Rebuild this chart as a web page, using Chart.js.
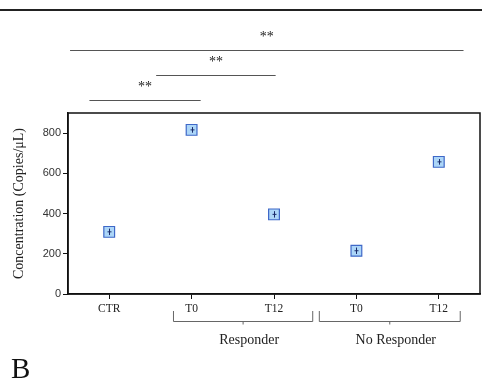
<!DOCTYPE html>
<html>
<head>
<meta charset="utf-8">
<script src="https://cdn.jsdelivr.net/npm/chart.js@4"></script>
<style>
  html, body { margin: 0; padding: 0; background: #fff; }
  #wrap { width: 482px; height: 388px; position: relative; }
</style>
</head>
<body>
<div id="wrap"><canvas id="chart"></canvas></div>
<script>
const categories = ['CTR', 'T0', 'T12', 'T0', 'T12'];
const concentration = [309, 816, 396, 215, 657];
const errors = [16, 14, 16, 16, 14];
const yTicks = [0, 200, 400, 600, 800];

// significance lines: [from index, to index, value level]
const sigLines = [
    [-0.24, 1.11, 965],
    [0.57, 2.02, 1088],
    [-0.475, 4.3, 1211]
];
const groups = [
    { label: 'Responder', from: 0.78, to: 2.47 },
    { label: 'No Responder', from: 2.55, to: 4.26 }
];

const serif = '"Liberation Serif", "Times New Roman", serif';
const sans = '"Liberation Sans", Arial, sans-serif';

const decorations = {
    id: 'decorations',
    afterDatasetsDraw(chart) {
        const ctx = chart.ctx;
        const area = chart.chartArea;
        const xs = chart.scales.x;
        const ys = chart.scales.y;
        ctx.save();

        // frame
        ctx.strokeStyle = '#111';
        ctx.lineWidth = 1.5;
        ctx.strokeRect(area.left, area.top, area.right - area.left, area.bottom - area.top);

        // error bars
        ctx.strokeStyle = '#1a2a6a';
        ctx.lineWidth = 1;
        concentration.forEach((v, i) => {
            const x = Math.round(xs.getPixelForValue(i)) + 0.5;
            const y1 = ys.getPixelForValue(v - errors[i]);
            const y2 = ys.getPixelForValue(v + errors[i]);
            ctx.beginPath();
            ctx.moveTo(x, y1); ctx.lineTo(x, y2);
            ctx.moveTo(x - 2, ys.getPixelForValue(v)); ctx.lineTo(x + 2, ys.getPixelForValue(v));
            ctx.stroke();
        });

        // top rule
        ctx.strokeStyle = '#222';
        ctx.lineWidth = 2;
        ctx.beginPath();
        ctx.moveTo(0, 10); ctx.lineTo(chart.width, 10);
        ctx.stroke();

        // significance
        ctx.strokeStyle = '#555';
        ctx.lineWidth = 1;
        ctx.fillStyle = '#222';
        ctx.font = '14px ' + serif;
        ctx.textAlign = 'center';
        ctx.textBaseline = 'alphabetic';
        sigLines.forEach(([a, b, lvl]) => {
            const x1 = xs.getPixelForValue(a);
            const x2 = xs.getPixelForValue(b);
            const y = Math.round(ys.getPixelForValue(lvl)) + 0.5;
            ctx.beginPath();
            ctx.moveTo(x1, y); ctx.lineTo(x2, y);
            ctx.stroke();
            ctx.fillText('**', (x1 + x2) / 2, y - 10);
        });

        // group brackets
        const top = area.bottom + 17;
        const bot = area.bottom + 27.5;
        ctx.strokeStyle = '#666';
        ctx.lineWidth = 1;
        ctx.font = '14px ' + serif;
        groups.forEach(g => {
            const x1 = xs.getPixelForValue(g.from);
            const x2 = xs.getPixelForValue(g.to);
            const mid = (x1 + x2) / 2;
            ctx.beginPath();
            ctx.moveTo(x1, top); ctx.lineTo(x1, bot); ctx.lineTo(x2, bot); ctx.lineTo(x2, top);
            ctx.moveTo(mid, bot); ctx.lineTo(mid, bot + 3);
            ctx.stroke();
            ctx.fillStyle = '#222';
            ctx.textBaseline = 'middle';
            ctx.fillText(g.label, mid + 6, area.bottom + 46);
        });

        // y title
        ctx.save();
        ctx.translate(19, (area.top + area.bottom) / 2);
        ctx.rotate(-Math.PI / 2);
        ctx.font = '14px ' + serif;
        ctx.fillStyle = '#222';
        ctx.textAlign = 'center';
        ctx.textBaseline = 'middle';
        ctx.fillText('Concentration (Copies/\u03bcL)', 0, 0);
        ctx.restore();

        // panel letter
        ctx.font = '29px ' + serif;
        ctx.fillStyle = '#111';
        ctx.textAlign = 'left';
        ctx.textBaseline = 'alphabetic';
        ctx.fillText('B', 11, 378);

        ctx.restore();
    }
};

new Chart(document.getElementById('chart'), {
    type: 'line',
    data: {
        labels: categories,
        datasets: [{
            data: concentration,
            showLine: false,
            pointStyle: 'rect',
            pointRadius: 7.6,
            pointHoverRadius: 7.6,
            pointBackgroundColor: '#acd6f8',
            pointBorderColor: '#3f68c8',
            pointBorderWidth: 1.2
        }]
    },
    options: {
        responsive: true,
        maintainAspectRatio: false,
        animation: false,
        layout: { autoPadding: false, padding: { top: 113, right: 2, left: 0, bottom: 0 } },
        plugins: { legend: { display: false }, tooltip: { enabled: false } },
        scales: {
            x: {
                type: 'category',
                offset: true,
                afterFit: s => { s.height = 94; s.paddingLeft = 0; s.paddingRight = 0; },
                grid: { display: true, drawOnChartArea: false, drawTicks: true, tickLength: 5, color: '#111', offset: false },
                border: { color: '#111', width: 1.5 },
                ticks: { color: '#222', padding: 3, font: { family: serif, size: 11.5 } }
            },
            y: {
                min: 0,
                max: 900,
                afterFit: s => { s.width = 68; s.paddingTop = 0; s.paddingBottom = 0; },
                afterBuildTicks: s => { s.ticks = yTicks.map(v => ({ value: v })); },
                grid: { display: true, drawOnChartArea: false, drawTicks: true, tickLength: 5, color: '#111' },
                border: { color: '#111', width: 1.5 },
                ticks: { color: '#333', padding: 2, font: { family: sans, size: 11 } }
            }
        }
    },
    plugins: [decorations]
});
</script>
</body>
</html>
